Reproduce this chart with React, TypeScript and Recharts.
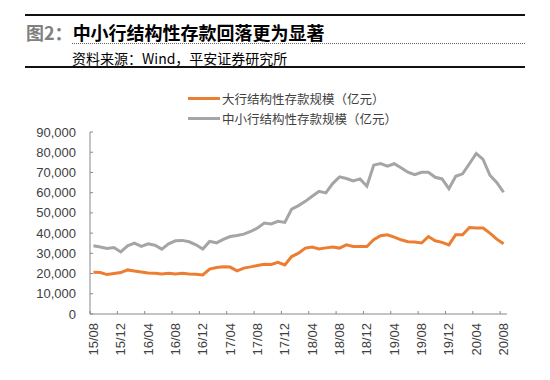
import { LineChart, Line, XAxis, YAxis, Legend } from "recharts"

const months = [
  "15/08", "15/09", "15/10", "15/11", "15/12",
  "16/01", "16/02", "16/03", "16/04", "16/05", "16/06", "16/07", "16/08", "16/09", "16/10", "16/11", "16/12",
  "17/01", "17/02", "17/03", "17/04", "17/05", "17/06", "17/07", "17/08", "17/09", "17/10", "17/11", "17/12",
  "18/01", "18/02", "18/03", "18/04", "18/05", "18/06", "18/07", "18/08", "18/09", "18/10", "18/11", "18/12",
  "19/01", "19/02", "19/03", "19/04", "19/05", "19/06", "19/07", "19/08", "19/09", "19/10", "19/11", "19/12",
  "20/01", "20/02", "20/03", "20/04", "20/05", "20/06", "20/07", "20/08",
]

// 大行结构性存款规模（亿元）
const bigBanks = [
  20700, 20500, 19500, 20000, 20500, 21800, 21300, 20800, 20300, 20200,
  19800, 20200, 19800, 20200, 19800, 19700, 19300, 22200, 23000, 23400,
  23200, 21300, 22700, 23300, 24000, 24600, 24500, 25600, 24300, 28400,
  30100, 32600, 33100, 32200, 32700, 33100, 32600, 34200, 33400, 33400,
  33400, 36700, 38700, 39200, 38000, 36700, 35700, 35600, 35100, 38300,
  36200, 35400, 34200, 39200, 39200, 42800, 42500, 42500, 40000, 37000,
  34700,
]

// 中小行结构性存款规模（亿元）
const smallBanks = [
  33700, 33100, 32400, 32900, 30700, 33700, 35000, 33400, 34700, 34000,
  32100, 34700, 36200, 36400, 35700, 34200, 32100, 35900, 35200, 36900,
  38300, 38800, 39500, 40800, 42500, 45000, 44500, 45800, 45300, 51900,
  53600, 55700, 58200, 60700, 59900, 64500, 67800, 67000, 65800, 66800,
  63200, 73600, 74400, 73100, 74300, 72300, 70100, 68900, 70100, 70100,
  67600, 66800, 62000, 68100, 69300, 74300, 79400, 76400, 68600, 65100,
  60200,
]

const yTicks = [0, 10000, 20000, 30000, 40000, 50000, 60000, 70000, 80000, 90000]

const seriesOrder = ["big", "small"]

const data = months.map((m, i) => ({ month: m, big: bigBanks[i], small: smallBanks[i] }))

const axisColor = "#898989"
const labelFont = "'Liberation Sans', Arial, sans-serif"
const cjkFont = "'Noto Sans CJK SC', sans-serif"

const XTick = (props: any) => {
  const { x, y, payload } = props
  return (
    <g>
      <line x1={x - 3.42} x2={x - 3.42} y1={y - 9} y2={y - 12} stroke={axisColor} />
      <text
        x={x}
        y={y}
        transform={`rotate(-90, ${x}, ${y})`}
        textAnchor="end"
        dominantBaseline="central"
        fontSize={13}
        fontFamily={labelFont}
        fill="#404040"
      >
        {payload.value}
      </text>
    </g>
  )
}

const YTick = (props: any) => {
  const { x, y, payload } = props
  return (
    <g>
      <line x1={x + 14} x2={x + 17} y1={y} y2={y} stroke={axisColor} />
      <text
        x={x}
        y={y}
        textAnchor="end"
        dominantBaseline="central"
        fontSize={13}
        fontFamily={labelFont}
        fill="#404040"
      >
        {payload.value.toLocaleString("en-US")}
      </text>
    </g>
  )
}

const renderLegend = (props: any) => {
  const items = [...(props.payload || [])].sort(
    (a: any, b: any) => seriesOrder.indexOf(a.dataKey) - seriesOrder.indexOf(b.dataKey)
  )
  return (
    <div style={{ fontFamily: cjkFont, fontSize: 12.5, color: "#404040" }}>
      {items.map((entry: any) => (
        <div key={entry.value} style={{ display: "flex", alignItems: "center", height: 20, whiteSpace: "nowrap" }}>
          <span style={{ display: "inline-block", width: 32, height: 3, background: entry.color, marginRight: 2 }} />
          <span>{entry.value}</span>
        </div>
      ))}
    </div>
  )
}

export default function App() {
  return (
    <div style={{ position: "absolute", left: 0, top: 0, width: 550, height: 380, background: "#fff" }}>
      <div style={{ position: "absolute", left: 25, top: 14, width: 500, height: 2, background: "#111" }} />
      <div
        style={{
          position: "absolute",
          left: 26,
          top: 21,
          lineHeight: "22px",
          fontSize: 18,
          fontWeight: 700,
          fontFamily: cjkFont,
          whiteSpace: "nowrap",
        }}
      >
        <span style={{ color: "#808080" }}>图2：</span>
        <span style={{ color: "#000" }}>中小行结构性存款回落更为显著</span>
      </div>
      <div style={{ position: "absolute", left: 72, top: 43, width: 453, borderTop: "1px dotted #666" }} />
      <div
        style={{
          position: "absolute",
          left: 72,
          top: 49,
          lineHeight: "18px",
          fontSize: 14,
          fontFamily: cjkFont,
          color: "#000",
          whiteSpace: "nowrap",
        }}
      >
        资料来源：Wind，平安证券研究所
      </div>
      <div style={{ position: "absolute", left: 25, top: 66, width: 500, height: 2, background: "#111" }} />

      <div style={{ position: "absolute", left: 0, top: 0 }}>
        <LineChart
          width={550}
          height={380}
          data={data}
          margin={{ top: 132, right: 43, bottom: 16, left: 30 }}
        >
          <XAxis
            dataKey="month"
            interval={3}
            padding={{ left: 3.42, right: 3.42 }}
            tickSize={0}
            tickMargin={9}
            tickLine={false}
            tick={<XTick />}
            height={50}
            axisLine={{ stroke: axisColor }}
          />
          <YAxis
            domain={[0, 90000]}
            ticks={yTicks}
            interval={0}
            tickSize={0}
            tickMargin={14}
            tickLine={false}
            tick={<YTick />}
            width={60}
            axisLine={{ stroke: axisColor }}
          />
          <Legend
            layout="vertical"
            align="center"
            verticalAlign="middle"
            content={renderLegend}
            wrapperStyle={{ position: "absolute", top: 88, left: 188, width: "auto", height: "auto" }}
          />
          <Line
            type="linear"
            dataKey="big"
            name="大行结构性存款规模（亿元）"
            stroke="#ED7D31"
            strokeWidth={3}
            dot={false}
            isAnimationActive={false}
          />
          <Line
            type="linear"
            dataKey="small"
            name="中小行结构性存款规模（亿元）"
            stroke="#A5A5A5"
            strokeWidth={3}
            dot={false}
            isAnimationActive={false}
          />
        </LineChart>
      </div>
    </div>
  )
}
